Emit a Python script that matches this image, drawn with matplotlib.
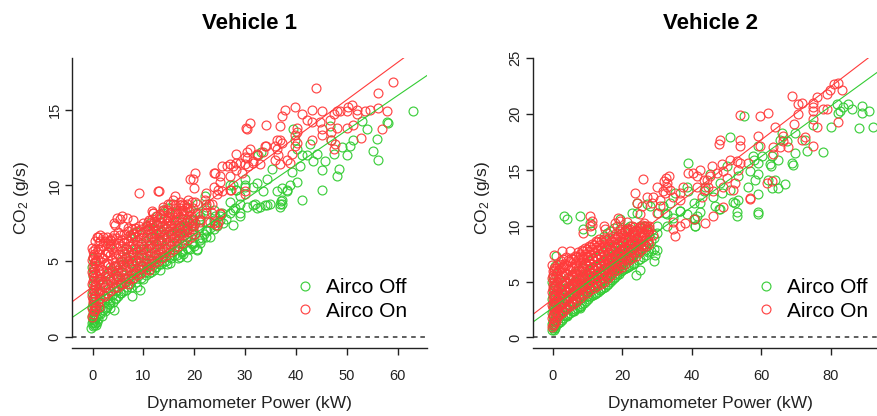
import matplotlib.pyplot as plt

plt.rcParams['font.family'] = ['Liberation Sans', 'DejaVu Sans']

# Vehicle 1 - airco off (x = power kW, y = CO2 g/s)
v1_off = [
    (-0.3, 0.6), (0.0, 0.7), (0.2, 0.8), (-0.2, 0.9), (0.1, 1.0), (0.3, 1.1), (0.0, 1.2), (-0.1, 1.4),
    (0.2, 1.5), (0.0, 1.7), (0.4, 1.9), (-0.2, 2.0), (0.1, 2.2), (0.3, 2.4), (0.0, 2.6), (-0.1, 2.9),
    (0.2, 3.1), (0.0, 3.4), (0.4, 3.7), (0.1, 4.0), (0.0, 4.3), (-0.2, 4.6), (0.2, 4.9), (0.0, 5.2),
    (0.6, 0.8), (0.8, 1.0), (0.6, 1.3),
    (1.0, 1.2), (1.2, 1.6), (1.5, 2.0), (1.8, 1.4), (2.0, 1.8), (2.2, 2.3), (2.5, 1.7), (2.8, 2.0),
    (3.0, 2.6), (3.2, 2.2), (3.5, 1.9), (3.8, 2.8), (4.0, 2.3), (4.1, 1.8), (4.4, 2.5), (4.6, 3.0),
    (5.0, 2.7), (5.4, 2.9), (5.6, 3.4), (6.0, 3.0), (6.3, 3.6), (6.7, 3.3), (7.0, 3.9), (7.3, 3.5),
    (7.7, 2.7), (8.0, 3.8), (8.3, 4.2), (8.7, 3.3), (9.0, 4.0), (9.3, 3.1), (9.6, 4.5), (10.0, 3.8),
    (10.3, 4.3), (10.6, 4.8), (11.0, 4.2), (11.3, 4.5), (11.7, 5.0), (12.0, 4.4), (12.3, 4.6),
    (12.7, 5.2), (13.0, 4.8), (13.3, 4.4), (13.7, 5.3), (14.0, 5.0), (14.6, 4.8), (15.0, 5.3),
    (15.2, 4.9), (15.6, 5.6), (16.0, 5.4), (16.5, 5.8), (16.8, 5.2), (17.2, 5.3), (17.5, 5.7),
    (17.8, 6.1), (18.5, 5.3), (18.8, 5.8), (19.2, 5.8), (19.6, 6.2), (20.0, 6.0), (20.5, 5.8),
    (21.1, 6.2), (21.5, 6.5), (22.0, 6.8), (22.4, 6.6), (23.0, 7.2), (23.8, 7.1), (23.8, 7.7),
    (24.4, 7.3), (25.1, 8.0), (25.6, 7.5), (26.2, 7.8), (27.7, 7.4), (29.0, 8.2), (30.3, 8.6),
    (31.6, 8.7), (33.9, 8.7), (36.9, 8.8), (37.0, 9.0), (41.1, 9.05),
    (0.5, 0.9), (0.5, 1.4), (0.5, 2.0), (0.5, 2.7), (0.5, 3.4), (1.5, 1.5), (1.5, 2.3), (1.5, 3.0),
    (1.5, 3.8), (2.5, 1.9), (2.5, 2.6), (2.5, 3.3), (2.5, 4.0), (3.5, 2.3), (3.5, 3.0), (3.5, 3.7),
    (3.5, 4.4), (4.5, 2.6), (4.5, 3.3), (4.5, 4.0), (4.5, 4.7), (5.5, 2.9), (5.5, 3.6), (5.5, 4.3),
    (5.5, 5.0), (6.5, 3.1), (6.5, 3.9), (6.5, 4.6), (6.5, 5.3), (7.5, 3.3), (7.5, 4.1), (7.5, 4.9),
    (7.5, 5.6), (8.5, 3.6), (8.5, 4.4), (8.5, 5.1), (8.5, 5.8), (9.5, 3.9), (9.5, 4.7), (9.5, 5.4),
    (9.5, 6.1), (10.5, 4.1), (10.5, 4.9), (10.5, 5.6), (10.5, 6.3), (11.5, 4.3), (11.5, 5.1),
    (11.5, 5.9), (11.5, 6.6), (12.5, 4.6), (12.5, 5.4), (12.5, 6.1), (12.5, 6.8), (13.5, 4.8),
    (13.5, 5.6), (13.5, 6.3), (13.5, 7.0), (14.5, 5.0), (14.5, 5.8), (14.5, 6.5), (14.5, 7.2),
    (15.5, 5.2), (15.5, 6.0), (15.5, 6.7), (15.5, 7.4), (16.5, 5.4), (16.5, 6.2), (16.5, 6.9),
    (16.5, 7.6), (17.5, 5.6), (17.5, 6.4), (17.5, 7.1), (17.5, 7.8), (18.5, 5.9), (18.5, 6.6),
    (18.5, 7.3), (19.5, 6.1), (19.5, 6.8), (19.5, 7.5), (21.0, 6.5), (21.0, 7.2), (22.5, 7.0),
    (22.5, 7.6), (24.0, 7.4), (24.0, 8.0),
    (2.0, 3.5), (3.0, 4.2), (4.0, 3.8), (5.0, 4.4), (6.0, 4.8), (7.0, 5.0), (8.0, 5.5), (9.0, 5.2),
    (10.0, 5.8), (11.0, 6.0), (12.0, 6.5), (13.0, 6.3), (14.0, 6.8), (15.0, 7.0), (16.0, 6.6),
    (17.0, 7.2), (18.0, 7.0), (19.0, 7.6), (20.0, 7.4), (3.5, 6.1), (6.5, 5.8), (7.5, 6.6), (8.5, 6.9),
    (10.6, 7.07), (11.3, 7.5), (12.6, 7.95), (13.9, 8.4), (15.9, 8.8), (16.5, 8.2), (18.5, 8.6),
    (18.5, 7.07), (17.2, 6.85), (19.8, 7.7), (21.1, 7.95), (22.4, 8.4), (20.5, 8.8),
    (63.0, 14.93), (57.9, 14.2), (58.2, 14.1), (55.9, 13.06), (56.1, 11.7), (55.1, 12.25),
    (53.1, 14.27), (53.9, 13.7), (51.3, 13.0), (50.7, 12.6), (50.0, 12.0), (49.0, 12.5),
    (48.0, 10.6), (48.4, 11.1), (47.4, 12.1), (47.0, 13.0), (46.7, 13.9), (45.7, 11.6), (45.1, 11.0),
    (45.1, 9.67), (44.1, 12.1), (43.4, 11.6), (42.8, 12.7), (42.1, 12.0), (41.1, 12.0), (40.8, 11.25),
    (39.8, 13.0), (39.5, 13.7), (40.2, 12.4), (39.2, 10.9), (38.8, 10.0), (38.2, 9.6), (37.2, 9.8),
    (36.2, 9.6), (37.2, 8.8), (36.9, 8.6), (35.2, 11.1), (34.3, 10.4), (33.6, 9.6), (33.2, 12.2),
    (32.6, 12.0), (32.3, 10.15), (31.6, 9.9), (30.0, 9.9), (30.0, 10.4), (29.0, 9.3), (28.3, 9.7),
    (27.7, 10.0), (27.0, 10.0), (28.0, 8.5), (27.0, 8.2), (29.0, 8.8), (32.0, 8.8), (32.3, 8.5),
    (34.3, 8.7), (23.8, 8.4), (22.4, 8.6), (22.1, 9.3), (21.1, 7.8), (20.5, 8.2), (19.8, 7.3),
    (18.5, 7.7), (17.2, 7.3), (16.2, 8.2), (14.9, 8.5), (13.9, 8.2), (13.3, 7.6), (12.6, 7.4),
    (11.9, 7.1), (10.6, 7.3), (8.0, 6.85),
    (40.2, 10.2), (38.2, 9.7), (37.2, 9.05), (34.9, 8.8), (32.9, 8.6), (29.0, 7.95), (27.7, 8.4),
    (27.0, 8.9), (30.0, 10.0), (28.3, 9.7), (25.4, 8.2), (25.1, 7.7), (23.1, 6.6), (22.4, 7.07),
    (21.1, 6.4), (20.5, 5.75), (17.8, 5.5), (19.8, 6.2),
]

# Vehicle 1 - airco on
v1_on = [
    (-0.2, 1.3), (0.0, 1.5), (0.2, 1.7), (-0.1, 1.9), (0.3, 2.1), (0.0, 2.3), (0.1, 2.5), (-0.2, 2.7),
    (0.2, 2.9), (0.0, 3.1), (0.4, 3.3), (-0.1, 3.5), (0.1, 3.7), (0.3, 3.9), (0.0, 4.1), (-0.2, 4.3),
    (0.2, 4.5), (0.0, 4.7), (0.4, 4.9), (-0.1, 5.1), (0.1, 5.3), (0.3, 5.5), (0.0, 5.7), (-0.1, 5.9),
    (0.6, 2.0), (0.7, 3.0), (0.8, 4.0), (0.6, 5.0), (0.9, 5.6),
    (1.0, 2.3), (1.0, 3.0), (1.0, 3.7), (1.0, 4.4), (1.0, 5.1), (1.0, 5.8), (1.0, 6.6),
    (1.5, 2.6), (1.5, 3.4), (1.5, 4.2), (1.5, 5.0), (1.5, 5.8), (1.5, 6.3),
    (2.0, 2.8), (2.0, 3.6), (2.0, 4.4), (2.0, 5.2), (2.0, 6.0), (2.0, 6.6),
    (2.8, 2.9), (2.8, 3.5), (2.8, 4.2), (2.8, 4.9), (2.8, 5.6), (2.8, 6.2), (2.8, 6.6),
    (3.5, 3.0), (3.5, 3.8), (3.5, 4.6), (3.5, 5.4), (3.5, 6.0), (3.5, 6.4),
    (4.2, 3.2), (4.2, 3.9), (4.2, 4.7), (4.2, 5.5), (4.2, 6.1), (4.2, 6.7),
    (5.0, 3.3), (5.0, 4.0), (5.0, 4.8), (5.0, 5.5), (5.0, 6.2), (5.0, 6.9),
    (5.8, 3.5), (5.8, 4.3), (5.8, 5.0), (5.8, 5.7), (5.8, 6.4),
    (6.5, 3.6), (6.5, 4.4), (6.5, 5.2), (6.5, 5.9), (6.5, 6.5),
    (7.3, 3.8), (7.3, 4.6), (7.3, 5.3), (7.3, 6.0), (7.3, 6.7),
    (8.0, 3.9), (8.0, 4.7), (8.0, 5.4), (8.0, 6.1), (8.0, 6.8),
    (8.8, 4.1), (8.8, 4.9), (8.8, 5.6), (8.8, 6.3), (8.8, 7.0),
    (9.6, 4.2), (9.6, 5.0), (9.6, 5.8), (9.6, 6.5), (9.6, 7.1),
    (10.4, 4.5), (10.4, 5.2), (10.4, 5.9), (10.4, 6.6), (10.4, 7.3),
    (11.2, 4.7), (11.2, 5.4), (11.2, 6.1), (11.2, 6.8), (11.2, 7.4),
    (12.0, 4.9), (12.0, 5.6), (12.0, 6.3), (12.0, 7.0), (12.0, 7.6),
    (12.8, 5.0), (12.8, 5.8), (12.8, 6.4), (12.8, 7.1),
    (13.6, 5.2), (13.6, 5.9), (13.6, 6.6), (13.6, 7.3), (13.6, 7.9),
    (14.4, 5.4), (14.4, 6.1), (14.4, 6.8), (14.4, 7.5),
    (15.2, 5.6), (15.2, 6.3), (15.2, 7.0), (15.2, 7.7), (15.2, 8.2),
    (16.0, 5.8), (16.0, 6.5), (16.0, 7.2), (16.0, 7.9),
    (16.8, 6.0), (16.8, 6.7), (16.8, 7.4), (16.8, 8.1),
    (17.6, 6.2), (17.6, 6.9), (17.6, 7.6), (17.6, 8.3),
    (18.5, 6.4), (18.5, 7.1), (18.5, 7.8), (18.5, 8.5),
    (19.3, 6.6), (19.3, 7.3), (19.3, 8.0),
    (20.1, 6.8), (20.1, 7.5), (20.1, 8.2), (20.1, 8.9),
    (0.5, 1.8), (0.5, 2.6), (0.5, 3.4), (0.5, 4.2), (0.5, 5.0), (0.5, 5.8), (0.5, 6.3),
    (1.25, 2.0), (1.25, 2.9), (1.25, 3.8), (1.25, 4.7), (1.25, 5.5), (1.25, 6.2),
    (2.4, 2.7), (2.4, 3.3), (2.4, 4.0), (2.4, 4.8), (2.4, 5.5), (2.4, 6.3),
    (3.1, 3.2), (3.1, 4.0), (3.1, 4.8), (3.1, 5.6), (3.1, 6.3),
    (3.9, 3.4), (3.9, 4.3), (3.9, 5.1), (3.9, 5.8), (3.9, 6.5),
    (4.6, 3.6), (4.6, 4.4), (4.6, 5.2), (4.6, 5.9), (4.6, 6.5),
    (5.4, 3.8), (5.4, 4.6), (5.4, 5.3), (5.4, 6.0), (5.4, 6.7),
    (6.2, 3.9), (6.2, 4.7), (6.2, 5.5), (6.2, 6.2), (6.2, 6.8),
    (6.9, 4.0), (6.9, 4.9), (6.9, 5.6), (6.9, 6.3), (6.9, 7.0),
    (7.7, 4.2), (7.7, 5.0), (7.7, 5.8), (7.7, 6.5), (7.7, 7.1),
    (8.4, 4.3), (8.4, 5.1), (8.4, 5.9), (8.4, 6.6), (8.4, 7.2),
    (9.2, 4.5), (9.2, 5.3), (9.2, 6.0), (9.2, 6.8), (9.2, 7.3),
    (10.0, 4.7), (10.0, 5.5), (10.0, 6.2), (10.0, 6.9), (10.0, 7.5),
    (10.8, 4.9), (10.8, 5.7), (10.8, 6.4), (10.8, 7.1), (10.8, 7.6),
    (11.6, 5.1), (11.6, 5.9), (11.6, 6.6), (11.6, 7.2), (11.6, 7.8),
    (12.4, 5.3), (12.4, 6.0), (12.4, 6.8), (12.4, 7.4), (12.4, 8.0),
    (13.2, 5.5), (13.2, 6.2), (13.2, 6.9), (13.2, 7.6), (13.2, 8.1),
    (14.0, 5.7), (14.0, 6.4), (14.0, 7.1), (14.0, 7.8), (14.0, 8.3),
    (14.8, 5.9), (14.8, 6.6), (14.8, 7.3), (14.8, 7.9),
    (15.6, 6.1), (15.6, 6.8), (15.6, 7.5), (15.6, 8.1),
    (16.4, 6.3), (16.4, 7.0), (16.4, 7.7), (16.4, 8.3),
    (17.2, 6.5), (17.2, 7.2), (17.2, 7.9), (17.2, 8.5),
    (18.0, 6.7), (18.0, 7.4), (18.0, 8.1), (18.0, 8.7),
    (18.9, 6.9), (18.9, 7.6), (18.9, 8.3), (19.7, 7.1), (19.7, 7.8), (19.7, 8.5),
    (4.7, 4.0), (5.4, 3.5), (7.0, 3.5), (11.0, 4.4),
    (4.7, 7.84), (5.7, 7.95), (6.7, 7.84), (8.0, 7.73), (4.1, 7.5), (6.0, 7.3), (7.0, 7.2),
    (0.8, 6.6), (1.4, 6.7), (3.7, 6.4), (21.1, 7.73), (21.8, 8.17), (23.4, 8.17), (25.1, 8.17),
    (24.4, 7.4), (23.1, 7.6), (22.4, 8.8), (15.2, 8.8), (17.2, 8.7), (11.9, 8.17), (19.8, 6.96),
    (59.1, 16.8), (56.1, 16.1), (44.0, 16.4), (58.0, 14.9), (56.1, 15.1), (54.6, 15.0), (53.6, 14.9),
    (52.0, 15.0), (52.0, 14.7), (51.0, 15.3), (50.3, 15.2), (50.0, 14.9), (48.7, 14.9), (48.0, 14.9),
    (47.4, 14.7), (46.7, 14.3), (51.3, 14.0), (50.0, 13.8), (48.0, 13.8), (47.0, 13.5), (47.0, 13.0),
    (47.7, 12.7), (47.4, 12.4), (52.9, 13.1), (57.0, 13.7), (45.1, 14.9), (44.8, 14.2), (45.1, 13.7),
    (45.1, 13.3), (43.1, 15.0), (43.1, 14.2), (43.1, 13.0), (42.1, 14.3), (41.1, 14.7), (40.2, 13.8),
    (39.8, 15.2), (40.2, 13.5), (37.9, 15.0), (37.2, 14.6), (36.9, 13.9), (36.9, 13.0), (37.2, 12.8),
    (36.2, 13.0), (35.9, 12.6), (36.2, 12.4), (36.5, 12.0), (35.9, 11.7), (36.9, 11.4), (38.2, 11.7),
    (39.2, 12.1), (39.8, 12.6), (38.8, 11.5), (34.1, 14.0), (34.1, 12.6), (33.6, 12.2), (32.3, 12.1),
    (32.9, 11.4), (31.6, 11.6), (31.0, 14.1), (30.2, 13.8), (30.3, 12.2), (30.0, 11.9), (30.0, 11.4),
    (28.3, 12.1), (28.3, 11.5), (27.7, 11.25), (27.0, 10.6), (27.3, 9.7), (30.0, 9.6), (30.0, 9.4),
    (26.4, 11.25), (25.4, 11.25), (25.1, 10.6), (25.1, 10.2), (24.7, 9.7), (24.4, 9.4), (23.8, 10.8),
    (23.8, 9.9), (23.4, 8.8), (22.8, 8.8), (22.4, 9.5), (20.1, 10.8), (19.8, 10.4), (19.2, 10.4),
    (20.0, 9.8), (19.5, 8.9), (18.5, 8.8), (17.5, 8.8), (16.2, 9.3), (16.2, 8.7), (15.9, 9.05),
    (14.9, 8.8), (14.6, 8.4), (13.9, 8.6), (13.1, 9.6), (11.9, 8.2), (11.9, 7.5), (11.0, 7.7),
    (9.1, 9.5), (5.4, 7.8), (4.4, 7.4), (23.8, 7.5), (24.7, 7.6), (25.1, 8.1), (22.4, 8.2),
    (21.1, 7.6), (30.3, 13.7), (39.8, 13.35), (40.2, 12.8), (33.9, 12.6), (32.3, 12.0), (31.0, 12.4),
    (30.3, 11.8), (31.6, 11.5), (30.6, 11.25), (29.0, 11.5), (27.0, 11.4), (28.3, 11.0), (29.3, 10.8),
    (24.1, 10.8), (12.9, 9.6), (25.4, 9.6), (27.0, 9.7), (22.1, 9.05), (18.8, 9.05), (17.2, 8.9),
    (13.9, 8.4), (11.6, 8.3), (17.8, 8.4), (14.6, 7.7),
]

# Vehicle 2 - airco off
v2_off = [
    (-0.3, 0.7), (0.0, 0.8), (0.2, 1.0), (-0.1, 1.2), (0.1, 1.4), (0.3, 1.6), (0.0, 1.9), (-0.2, 2.2),
    (0.2, 2.5), (0.0, 2.8), (0.3, 3.1), (-0.1, 3.4), (0.1, 3.8), (0.0, 4.2), (0.2, 4.6), (-0.2, 5.0),
    (0.1, 5.4), (1.0, 7.26), (0.7, 6.37),
    (0.5, 1.0), (0.5, 1.5), (0.5, 2.2), (0.5, 3.0), (0.5, 3.8), (0.5, 4.6),
    (1.5, 1.3), (1.5, 2.0), (1.5, 2.8), (1.5, 3.6), (1.5, 4.4), (1.5, 5.2),
    (2.5, 1.6), (2.5, 2.4), (2.5, 3.2), (2.5, 4.0), (2.5, 4.8),
    (3.5, 1.9), (3.5, 2.7), (3.5, 3.5), (3.5, 4.3), (3.5, 5.1),
    (4.5, 2.1), (4.5, 2.9), (4.5, 3.7), (4.5, 4.5), (4.5, 5.3),
    (5.5, 2.4), (5.5, 3.2), (5.5, 4.0), (5.5, 4.8), (5.5, 5.6),
    (6.5, 2.5), (6.5, 3.4), (6.5, 4.2), (6.5, 5.0), (6.5, 5.8),
    (7.5, 2.7), (7.5, 3.6), (7.5, 4.4), (7.5, 5.2), (7.5, 6.0),
    (8.5, 3.0), (8.5, 3.8), (8.5, 4.6), (8.5, 5.4), (8.5, 6.2),
    (9.5, 3.3), (9.5, 4.1), (9.5, 4.9), (9.5, 5.7), (9.5, 6.5),
    (10.5, 3.6), (10.5, 4.4), (10.5, 5.2), (10.5, 6.0), (10.5, 6.8),
    (11.5, 3.8), (11.5, 4.6), (11.5, 5.4), (11.5, 6.2), (11.5, 7.0),
    (12.5, 4.0), (12.5, 4.8), (12.5, 5.6), (12.5, 6.4), (12.5, 7.2),
    (13.5, 4.2), (13.5, 5.0), (13.5, 5.8), (13.5, 6.6), (13.5, 7.4),
    (14.5, 4.4), (14.5, 5.2), (14.5, 6.0), (14.5, 6.8), (14.5, 7.6),
    (15.5, 4.7), (15.5, 5.4), (15.5, 6.2), (15.5, 7.0), (15.5, 7.8),
    (16.5, 5.0), (16.5, 5.7), (16.5, 6.4), (16.5, 7.2), (16.5, 8.0),
    (17.5, 5.3), (17.5, 6.0), (17.5, 6.7), (17.5, 7.4), (17.5, 8.2),
    (18.5, 5.6), (18.5, 6.2), (18.5, 6.9), (18.5, 7.6), (18.5, 8.4),
    (19.5, 5.9), (19.5, 6.5), (19.5, 7.2), (19.5, 7.9), (19.5, 8.6),
    (20.5, 6.1), (20.5, 6.8), (20.5, 7.5), (20.5, 8.2),
    (21.5, 6.3), (21.5, 7.0), (21.5, 7.7), (21.5, 8.5),
    (22.5, 6.5), (22.5, 7.2), (22.5, 8.0), (22.5, 8.7),
    (23.5, 6.7), (23.5, 7.5), (23.5, 8.3), (23.5, 9.0),
    (24.5, 6.9), (24.5, 7.8), (24.5, 8.6), (26.0, 7.2), (26.0, 8.1), (26.0, 9.0),
    (27.5, 7.6), (27.5, 8.5), (27.5, 9.4), (29.0, 7.9), (29.0, 8.9),
    (1.0, 1.1), (1.0, 1.8), (1.0, 2.5), (1.0, 3.2), (2.0, 1.4), (2.0, 2.1), (2.0, 2.8), (2.0, 3.5),
    (3.0, 1.7), (3.0, 2.4), (3.0, 3.1), (3.0, 3.8), (4.0, 2.0), (4.0, 2.7), (4.0, 3.4), (4.0, 4.1),
    (5.0, 2.2), (5.0, 2.9), (5.0, 3.6), (5.0, 4.3), (6.0, 2.4), (6.0, 3.1), (6.0, 3.8), (6.0, 4.5),
    (7.0, 2.6), (7.0, 3.3), (7.0, 4.0), (7.0, 4.7), (8.0, 2.8), (8.0, 3.5), (8.0, 4.2), (8.0, 4.9),
    (9.0, 3.1), (9.0, 3.8), (9.0, 4.5), (9.0, 5.2), (10.0, 3.4), (10.0, 4.1), (10.0, 4.8), (10.0, 5.5),
    (11.0, 3.7), (11.0, 4.4), (11.0, 5.1), (11.0, 5.8), (12.0, 3.9), (12.0, 4.6), (12.0, 5.3),
    (12.0, 6.0), (13.0, 4.1), (13.0, 4.8), (13.0, 5.5), (13.0, 6.2), (14.0, 4.3), (14.0, 5.0),
    (14.0, 5.7), (14.0, 6.4), (15.0, 4.5), (15.0, 5.2), (15.0, 5.9), (15.0, 6.6), (16.0, 4.8),
    (16.0, 5.5), (16.0, 6.2), (16.0, 6.9), (17.0, 5.1), (17.0, 5.8), (17.0, 6.5), (17.0, 7.2),
    (18.0, 5.4), (18.0, 6.1), (18.0, 6.8), (18.0, 7.5), (19.0, 5.7), (19.0, 6.4), (19.0, 7.1),
    (19.0, 7.8), (20.0, 6.0), (20.0, 6.7), (20.0, 7.4), (21.0, 6.2), (21.0, 6.9), (21.0, 7.6),
    (22.0, 6.4), (22.0, 7.1), (22.0, 7.8), (23.0, 6.6), (23.0, 7.3), (23.0, 8.0), (25.0, 7.0),
    (25.0, 7.7), (26.8, 7.4), (26.8, 8.2), (28.2, 7.7), (28.2, 8.6),
    (3.1, 10.86), (7.8, 10.86), (10.9, 9.5), (92.1, 18.8), (88.2, 18.7), (91.1, 20.3), (88.9, 20.7),
    (88.9, 20.1), (86.0, 20.4), (85.1, 20.9), (83.6, 20.6), (82.7, 20.3), (81.7, 20.9), (82.2, 20.1),
    (80.0, 18.8), (77.9, 16.6), (74.8, 19.0), (73.1, 16.7), (72.6, 17.7), (69.7, 16.5), (68.8, 15.6),
    (69.0, 15.4), (69.7, 18.3), (67.3, 17.6), (65.9, 18.3), (65.4, 17.7), (64.9, 15.9), (62.5, 15.5),
    (62.7, 15.3), (63.0, 16.2), (62.0, 14.1), (64.0, 14.1), (64.9, 13.4), (66.9, 13.75), (63.0, 13.4),
    (60.1, 16.2), (59.2, 17.1), (59.2, 15.6), (59.2, 14.6), (58.2, 14.1), (59.2, 12.8), (59.2, 11.2),
    (56.8, 14.9), (57.7, 16.2), (57.9, 15.9), (56.3, 13.5), (54.9, 19.8), (53.4, 14.4), (53.0, 11.2),
    (53.4, 12.3), (52.5, 12.0), (51.0, 13.2), (51.0, 17.9), (50.0, 15.3), (48.6, 12.9), (48.2, 13.8),
    (46.7, 11.75), (47.7, 11.45), (46.2, 12.6), (45.3, 14.6), (43.8, 13.5), (43.4, 13.1), (42.4, 12.05),
    (42.4, 11.2), (40.9, 10.55), (40.9, 9.96), (39.0, 15.6), (38.6, 13.5), (38.8, 13.1), (40.5, 12.05),
    (36.6, 11.3), (35.2, 12.9), (33.8, 12.05), (32.8, 9.96), (32.3, 11.15), (31.8, 11.75),
    (30.4, 11.15), (29.9, 9.96), (28.0, 11.75), (27.0, 11.9), (26.6, 9.96), (24.2, 12.05),
    (24.2, 11.15), (22.3, 9.96), (21.3, 9.8), (19.4, 9.66), (17.5, 9.8), (16.5, 9.5), (14.6, 9.06),
    (59.0, 11.0), (52.9, 10.9), (51.9, 12.1), (48.2, 11.45), (41.4, 10.9), (40.5, 10.6), (40.9, 10.0),
    (38.6, 11.0), (36.6, 11.3), (34.7, 10.7), (32.8, 11.0), (29.9, 9.36), (29.9, 7.86), (29.5, 7.4),
    (29.0, 6.8), (26.6, 7.86), (25.1, 6.07), (23.9, 5.6), (21.8, 7.26), (19.4, 6.37), (18.4, 5.77),
    (16.5, 5.17), (13.6, 4.27), (9.8, 3.67), (7.8, 2.63), (5.9, 2.33), (4.0, 1.88), (1.6, 1.28),
    (0.7, 0.83), (0.2, 0.69), (8.8, 9.66), (10.7, 10.26), (4.0, 10.56), (15.5, 9.36), (19.4, 10.56),
    (22.7, 11.15), (25.1, 9.96), (27.0, 9.66),
]

# Vehicle 2 - airco on
v2_on = [
    (-0.2, 0.9), (0.0, 1.1), (0.2, 1.4), (-0.1, 1.7), (0.1, 2.0), (0.3, 2.3), (0.0, 2.6), (-0.2, 2.9),
    (0.2, 3.2), (0.0, 3.5), (0.3, 3.8), (-0.1, 4.1), (0.1, 4.4), (0.0, 4.7), (0.2, 5.0), (-0.2, 5.3),
    (0.1, 5.6), (0.0, 5.9), (0.3, 6.2), (-0.1, 6.5),
    (0.8, 1.5), (0.8, 2.3), (0.8, 3.1), (0.8, 3.9), (0.8, 4.7), (0.8, 5.5), (0.8, 6.2),
    (1.8, 2.0), (1.8, 2.8), (1.8, 3.6), (1.8, 4.4), (1.8, 5.2), (1.8, 6.0), (1.8, 6.6),
    (2.8, 2.3), (2.8, 3.1), (2.8, 3.9), (2.8, 4.7), (2.8, 5.5), (2.8, 6.3), (2.8, 7.0),
    (3.8, 2.5), (3.8, 3.3), (3.8, 4.1), (3.8, 4.9), (3.8, 5.7), (3.8, 6.5), (3.8, 7.2),
    (4.8, 2.8), (4.8, 3.6), (4.8, 4.4), (4.8, 5.2), (4.8, 6.0), (4.8, 6.8),
    (5.8, 3.0), (5.8, 3.8), (5.8, 4.6), (5.8, 5.4), (5.8, 6.2), (5.8, 7.0),
    (6.8, 3.2), (6.8, 4.0), (6.8, 4.8), (6.8, 5.6), (6.8, 6.4), (6.8, 7.2),
    (7.8, 3.5), (7.8, 4.3), (7.8, 5.1), (7.8, 5.9), (7.8, 6.7), (7.8, 7.5),
    (8.8, 3.8), (8.8, 4.6), (8.8, 5.4), (8.8, 6.2), (8.8, 7.0), (8.8, 7.7),
    (9.8, 4.0), (9.8, 4.8), (9.8, 5.6), (9.8, 6.4), (9.8, 7.2), (9.8, 7.9),
    (10.8, 4.2), (10.8, 5.0), (10.8, 5.8), (10.8, 6.6), (10.8, 7.4), (10.8, 8.1),
    (11.8, 4.4), (11.8, 5.2), (11.8, 6.0), (11.8, 6.8), (11.8, 7.6), (11.8, 8.3),
    (12.8, 4.6), (12.8, 5.4), (12.8, 6.2), (12.8, 7.0), (12.8, 7.8), (12.8, 8.5),
    (13.8, 4.8), (13.8, 5.6), (13.8, 6.4), (13.8, 7.2), (13.8, 8.0), (13.8, 8.6),
    (14.8, 5.0), (14.8, 5.8), (14.8, 6.6), (14.8, 7.4), (14.8, 8.2), (14.8, 8.8),
    (15.8, 5.3), (15.8, 6.1), (15.8, 6.9), (15.8, 7.6), (15.8, 8.4),
    (16.8, 5.6), (16.8, 6.4), (16.8, 7.1), (16.8, 7.9), (16.8, 8.6),
    (17.8, 5.9), (17.8, 6.6), (17.8, 7.4), (17.8, 8.1), (17.8, 8.9),
    (18.8, 6.1), (18.8, 6.9), (18.8, 7.6), (18.8, 8.4), (18.8, 9.1),
    (19.8, 6.3), (19.8, 7.1), (19.8, 7.9), (19.8, 8.6), (19.8, 9.3),
    (20.8, 6.6), (20.8, 7.3), (20.8, 8.1), (20.8, 8.9), (20.8, 9.5),
    (21.8, 6.9), (21.8, 7.6), (21.8, 8.4), (21.8, 9.1),
    (22.8, 7.1), (22.8, 7.9), (22.8, 8.6), (22.8, 9.4), (22.8, 10.0),
    (23.8, 7.3), (23.8, 8.1), (23.8, 8.9), (23.8, 9.6),
    (24.8, 7.6), (24.8, 8.4), (24.8, 9.2), (24.8, 9.9),
    (25.8, 7.9), (25.8, 8.7), (25.8, 9.4), (25.8, 10.1),
    (26.8, 8.2), (26.8, 9.0), (26.8, 9.7), (27.8, 8.4), (27.8, 9.2), (27.8, 10.0),
    (0.3, 1.2), (0.3, 2.0), (0.3, 2.8), (0.3, 3.6), (0.3, 4.4), (0.3, 5.2), (0.3, 6.0),
    (1.3, 1.8), (1.3, 2.6), (1.3, 3.4), (1.3, 4.2), (1.3, 5.0), (1.3, 5.8), (1.3, 6.5),
    (2.3, 2.2), (2.3, 3.0), (2.3, 3.8), (2.3, 4.6), (2.3, 5.4), (2.3, 6.2), (2.3, 6.8),
    (3.3, 2.6), (3.3, 3.4), (3.3, 4.2), (3.3, 5.0), (3.3, 5.8), (3.3, 6.6),
    (4.3, 2.9), (4.3, 3.7), (4.3, 4.5), (4.3, 5.3), (4.3, 6.1), (4.3, 6.9),
    (5.3, 3.2), (5.3, 4.0), (5.3, 4.8), (5.3, 5.6), (5.3, 6.4), (5.3, 7.1),
    (6.3, 3.5), (6.3, 4.3), (6.3, 5.1), (6.3, 5.9), (6.3, 6.7), (6.3, 7.3),
    (7.3, 3.8), (7.3, 4.6), (7.3, 5.4), (7.3, 6.2), (7.3, 7.0), (7.3, 7.6),
    (8.3, 4.0), (8.3, 4.8), (8.3, 5.6), (8.3, 6.4), (8.3, 7.2), (8.3, 7.8),
    (9.3, 4.3), (9.3, 5.1), (9.3, 5.9), (9.3, 6.7), (9.3, 7.5), (9.3, 8.0),
    (10.3, 4.5), (10.3, 5.3), (10.3, 6.1), (10.3, 6.9), (10.3, 7.7), (10.3, 8.2),
    (11.3, 4.7), (11.3, 5.5), (11.3, 6.3), (11.3, 7.1), (11.3, 7.9), (11.3, 8.4),
    (12.3, 4.9), (12.3, 5.7), (12.3, 6.5), (12.3, 7.3), (12.3, 8.1), (12.3, 8.6),
    (13.3, 5.1), (13.3, 5.9), (13.3, 6.7), (13.3, 7.5), (13.3, 8.3), (13.3, 8.8),
    (14.3, 5.3), (14.3, 6.1), (14.3, 6.9), (14.3, 7.7), (14.3, 8.5),
    (15.3, 5.6), (15.3, 6.4), (15.3, 7.2), (15.3, 8.0), (15.3, 8.7),
    (16.3, 5.9), (16.3, 6.7), (16.3, 7.5), (16.3, 8.2), (16.3, 8.9),
    (17.3, 6.1), (17.3, 6.9), (17.3, 7.7), (17.3, 8.5), (17.3, 9.1),
    (18.3, 6.4), (18.3, 7.2), (18.3, 8.0), (18.3, 8.8), (18.3, 9.3),
    (19.3, 6.6), (19.3, 7.4), (19.3, 8.2), (19.3, 9.0), (19.3, 9.5),
    (20.3, 6.9), (20.3, 7.7), (20.3, 8.5), (20.3, 9.2), (21.3, 7.1), (21.3, 7.9), (21.3, 8.7),
    (21.3, 9.4), (22.3, 7.4), (22.3, 8.2), (22.3, 9.0), (22.3, 9.7), (23.3, 7.6), (23.3, 8.4),
    (23.3, 9.2), (23.3, 9.9), (24.3, 7.9), (24.3, 8.7), (24.3, 9.5), (25.3, 8.2), (25.3, 9.0),
    (25.3, 9.8), (26.3, 8.4), (26.3, 9.2), (26.3, 10.0), (27.3, 8.7), (27.3, 9.5),
    (82.2, 22.8), (80.8, 22.7), (79.8, 22.1), (83.2, 22.1), (78.8, 21.8), (76.0, 21.5), (75.0, 21.0),
    (75.0, 20.6), (75.0, 20.3), (78.8, 20.4), (77.8, 20.4), (71.6, 21.0), (70.7, 20.9), (68.8, 21.6),
    (70.7, 20.0), (69.3, 19.1), (75.0, 19.5), (76.0, 18.8), (75.0, 17.1), (72.6, 17.9), (71.6, 17.7),
    (82.2, 19.3), (67.8, 17.0), (66.4, 17.6), (66.4, 18.0), (65.4, 17.0), (64.0, 18.8), (63.5, 16.4),
    (63.5, 17.0), (62.0, 20.1), (59.6, 19.8), (59.2, 18.0), (59.6, 17.1), (61.6, 13.8), (63.0, 14.0),
    (56.8, 12.5), (56.3, 15.6), (53.9, 19.9), (53.9, 17.7), (53.9, 17.1), (53.9, 15.6), (53.4, 15.0),
    (52.9, 15.8), (52.5, 13.8), (52.0, 13.2), (51.0, 15.9), (50.0, 14.3), (49.1, 13.5), (48.2, 17.7),
    (47.7, 17.3), (48.6, 15.5), (49.1, 14.9), (47.2, 14.7), (46.2, 13.1), (45.8, 15.3), (45.3, 14.4),
    (44.8, 13.5), (44.3, 14.1), (43.4, 14.1), (43.8, 13.2), (42.9, 12.6), (40.4, 14.7), (39.0, 14.7),
    (41.4, 14.4), (42.4, 15.0), (41.4, 13.5), (37.6, 13.5), (36.6, 12.9), (36.6, 12.3), (34.7, 12.6),
    (34.7, 10.3), (33.7, 13.2), (32.8, 13.8), (30.9, 12.3), (30.9, 11.75), (29.9, 11.15), (29.9, 13.5),
    (28.9, 12.6), (28.5, 12.05), (27.0, 12.6), (25.6, 11.75), (24.2, 12.05), (23.7, 12.9), (21.3, 10.3),
    (21.3, 9.66), (26.1, 9.36), (27.0, 9.96), (33.3, 14.4), (33.0, 13.5), (32.5, 14.3), (32.0, 14.0),
    (31.7, 13.1), (32.3, 12.9), (25.9, 14.2), (19.4, 10.4), (18.4, 9.96), (11.2, 10.4), (10.7, 9.96),
    (8.8, 9.36), (15.0, 9.7), (20.8, 9.5),
    (0.2, 7.4), (2.6, 7.7), (5.0, 7.7), (3.0, 6.37), (7.9, 7.26), (9.8, 7.26), (10.7, 10.9),
    (11.2, 10.1), (14.6, 9.96), (18.0, 10.26), (18.9, 10.7), (23.2, 9.51), (25.1, 11.0), (26.1, 10.26),
    (27.6, 9.66), (28.9, 9.2), (34.7, 9.66), (36.6, 9.96), (38.1, 10.26), (40.5, 10.6), (43.8, 10.26),
    (46.2, 10.9), (48.9, 11.7), (56.8, 12.35), (35.2, 9.06),
]

# regression lines: (intercept, slope)
v1_off_fit = (2.21, 0.2285)
v1_on_fit = (3.32, 0.2464)
v2_off_fit = (2.66, 0.2255)
v2_on_fit = (3.42, 0.2377)

GREEN = '#33CC33'
RED = '#FF3B3B'


def panel(ax, off, on, off_fit, on_fit, title, xlim, ylim, xticks, yticks):
    ax.plot([p[0] for p in off], [p[1] for p in off], 'o', mfc='none', mec=GREEN,
            ms=6.4, mew=0.85, alpha=0.95, label='Airco Off')
    ax.plot([p[0] for p in on], [p[1] for p in on], 'o', mfc='none', mec=RED,
            ms=6.4, mew=0.85, alpha=0.95, label='Airco On')
    ax.axline((0, off_fit[0]), slope=off_fit[1], color=GREEN, lw=0.8)
    ax.axline((0, on_fit[0]), slope=on_fit[1], color=RED, lw=0.8)
    ax.axhline(0, color='#333333', lw=1.1, ls=(0, (3, 3)))
    ax.set_xlim(xlim)
    ax.set_ylim(ylim)
    ax.set_xticks(xticks)
    ax.set_yticks(yticks)
    for s in ['top', 'right']:
        ax.spines[s].set_visible(False)
    ax.spines['left'].set_bounds(0, ylim[1])
    ax.spines['bottom'].set_position(('outward', 7))
    for s in ['left', 'bottom']:
        ax.spines[s].set_color('#222222')
        ax.spines[s].set_linewidth(1.0)
    ax.tick_params(length=5, width=1.0, color='#222222', labelsize=10.5, labelcolor='#222222')
    ax.tick_params(axis='x', pad=10)
    ax.tick_params(axis='y', pad=2.5)
    for lab in ax.get_yticklabels():
        lab.set_rotation(90)
        lab.set_va('center')
    ax.set_title(title, fontsize=16, fontweight='bold', pad=21)
    ax.set_xlabel('Dynamometer Power (kW)', fontsize=12.5, labelpad=9, color='#222222')
    ax.set_ylabel('$\\mathregular{CO_2}$ (g/s)', fontsize=12.5, labelpad=12, color='#222222')
    ax.legend(loc='center left', bbox_to_anchor=(0.627, 0.139), frameon=False, fontsize=15,
              handlelength=1.0, handletextpad=0.5, labelspacing=0.2, borderpad=0,
              borderaxespad=0)


fig = plt.figure(figsize=(8.77, 4.16), dpi=100)
ax1 = fig.add_axes([0.0821, 0.1863, 0.4048, 0.6743])
ax2 = fig.add_axes([0.6074, 0.1863, 0.4048, 0.6743])

panel(ax1, v1_off, v1_on, v1_off_fit, v1_on_fit, 'Vehicle 1', (-4.07, 65.8), (-0.1, 18.4),
      [0, 10, 20, 30, 40, 50, 60], [0, 5, 10, 15])
panel(ax2, v2_off, v2_on, v2_off_fit, v2_on_fit, 'Vehicle 2', (-5.8, 96.4), (-0.1, 25.0),
      [0, 20, 40, 60, 80], [0, 5, 10, 15, 20, 25])

fig.savefig('out.png', dpi=100)
